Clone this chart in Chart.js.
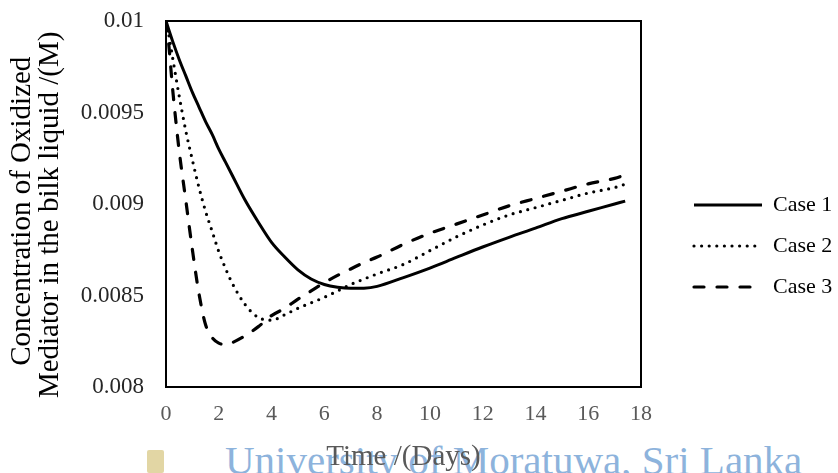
<!DOCTYPE html>
<html>
<head>
<meta charset="utf-8">
<script src="https://cdn.jsdelivr.net/npm/chart.js@4.4.1/dist/chart.umd.min.js"></script>
<style>
  body { margin: 0; background: #fff; }
  #wrap { position: relative; width: 838px; height: 473px; overflow: hidden; }
  #mark { position: absolute; left: 225px; top: 440px; font: 41px/41px "Liberation Serif", serif; color: #8db3dc; white-space: nowrap; }
  #crest { position: absolute; left: 147px; top: 450px; width: 17px; height: 23px; background: #e2d6a4; border-radius: 2px; }
  #box { position: absolute; left: 0; top: 0; width: 838px; height: 473px; }
</style>
</head>
<body>
<div id="wrap">
  <div id="crest"></div>
  <div id="mark">University of Moratuwa, Sri Lanka</div>
  <div id="box"><canvas id="chart-id"></canvas></div>
</div>
<script>
// Chart data //
const xDays = [0, 0.1, 0.25, 0.5, 0.75, 1, 1.25, 1.5, 1.75, 2, 2.25, 2.5, 3, 3.5, 4, 4.5, 5, 5.5, 6, 6.5, 7, 7.5, 8, 9, 10, 11, 12, 13, 14, 15, 16, 17, 17.4];
const case1 = [0.01, 0.009955, 0.00989, 0.00979, 0.0097, 0.00961, 0.00953, 0.00945, 0.00938, 0.0093, 0.00923, 0.00916, 0.00902, 0.0089, 0.00879, 0.00871, 0.00864, 0.00859, 0.00856, 0.008545, 0.008539, 0.00854, 0.00855, 0.008598, 0.00865, 0.008708, 0.008765, 0.008818, 0.008868, 0.00892, 0.00896, 0.009, 0.009016];
const case2 = [0.01, 0.00993, 0.0098, 0.00959, 0.0094, 0.00924, 0.00909, 0.00896, 0.00885, 0.00874, 0.00865, 0.00857, 0.00845, 0.00838, 0.008365, 0.008395, 0.00843, 0.00846, 0.00849, 0.008525, 0.00856, 0.00859, 0.008618, 0.00867, 0.008745, 0.00882, 0.008885, 0.00894, 0.00898, 0.00902, 0.00906, 0.00909, 0.009108];
const case3 = [0.01, 0.00988, 0.00963, 0.00929, 0.00902, 0.00875, 0.00851, 0.00834, 0.00827, 0.00824, 0.008232, 0.008242, 0.00828, 0.00833, 0.00839, 0.00843, 0.00848, 0.008525, 0.00857, 0.00861, 0.008645, 0.00868, 0.00871, 0.00878, 0.00884, 0.00889, 0.00894, 0.00899, 0.00903, 0.00907, 0.00911, 0.00914, 0.009159];
const seriesNames = ["Case 1", "Case 2", "Case 3"];
const xTickLabels = ["0", "2", "4", "6", "8", "10", "12", "14", "16", "18"];
const yTickLabels = ["0.008", "0.0085", "0.009", "0.0095", "0.01"];

// Pair days with values
function toPoints(values) {
    return xDays.map((d, i) => ({ x: d, y: values[i] }));
}

Chart.defaults.font.family = "'Liberation Serif', 'Times New Roman', serif";

const getCanvas = document.getElementById("chart-id");

// Line style for each case
const lineStyles = [
    { borderWidth: 3, borderDash: [], borderCapStyle: "butt" },
    { borderWidth: 3.2, borderDash: [0, 7.6], borderCapStyle: "round" },
    { borderWidth: 3.2, borderDash: [10, 13], borderCapStyle: "round" }
];

const datasets = [case1, case2, case3].map((values, i) => ({
    label: seriesNames[i],
    data: toPoints(values),
    borderColor: "#000",
    backgroundColor: "#000",
    borderWidth: lineStyles[i].borderWidth,
    borderDash: lineStyles[i].borderDash,
    borderCapStyle: lineStyles[i].borderCapStyle,
    pointRadius: 0,
    cubicInterpolationMode: "monotone",
    fill: false
}));

// no extra room for edge tick labels
function noEdgePadding(s) {
    s.paddingTop = 0;
    s.paddingBottom = 0;
    s.paddingLeft = 0;
    s.paddingRight = 0;
}

const myChart = new Chart(getCanvas, {
    type: "line",
    data: { datasets: datasets },
    options: {
        responsive: true,
        maintainAspectRatio: false,
        animation: false,
        layout: { padding: { top: 19, right: 1, bottom: 0, left: 0 } },
        plugins: {
            tooltip: { enabled: false },
            legend: {
                position: "right",
                maxWidth: 162,
                labels: {
                    usePointStyle: true,
                    pointStyleWidth: 68,
                    padding: 19,
                    color: "#000",
                    font: { size: 22 },
                    // Legend lines copy each dataset's dash
                    generateLabels: chart => chart.data.datasets.map((ds, i) => ({
                        text: ds.label,
                        strokeStyle: ds.borderColor,
                        fillStyle: ds.borderColor,
                        lineWidth: ds.borderWidth,
                        lineDash: ds.borderDash,
                        lineCap: ds.borderCapStyle,
                        pointStyle: "line",
                        fontColor: "#000",
                        hidden: false,
                        datasetIndex: i
                    }))
                }
            }
        },
        scales: {
            x: {
                type: "linear",
                position: "bottom",
                min: 0,
                max: 18,
                grid: { display: false, drawTicks: false },
                border: { display: true, color: "#000", width: 2 },
                ticks: {
                    stepSize: 2,
                    padding: 14,
                    color: "#595959",
                    font: { size: 22 },
                    maxRotation: 0,
                    callback: (v, i) => xTickLabels[i]
                },
                title: {
                    display: true,
                    text: "Time /(Days)",
                    color: "#595959",
                    font: { size: 29, lineHeight: 1 },
                    padding: { top: 0, bottom: 1 }
                },
                afterFit: s => { s.height = 86; noEdgePadding(s); }
            },
            x2: {
                type: "linear",
                axis: "x",
                position: "top",
                min: 0,
                max: 18,
                grid: { display: false, drawTicks: false },
                border: { display: true, color: "#000", width: 2 },
                ticks: { display: false },
                afterFit: s => { s.height = 2; noEdgePadding(s); }
            },
            y: {
                type: "linear",
                position: "left",
                min: 0.008,
                max: 0.01,
                grid: { display: false, drawTicks: false },
                border: { display: true, color: "#000", width: 2 },
                ticks: {
                    stepSize: 0.0005,
                    padding: 22,
                    color: "#262626",
                    font: { size: 23 },
                    callback: (v, i) => yTickLabels[i]
                },
                title: {
                    display: true,
                    // trailing spaces nudge the lines down a little, as in the picture
                    text: ["Concentration of Oxidized  ", "Mediator in the bilk liquid /(M)   "],
                    color: "#000",
                    font: { size: 29, lineHeight: 0.97 },
                    padding: { top: 8, bottom: 0 }
                },
                afterFit: s => { s.width = 166; noEdgePadding(s); }
            },
            y2: {
                type: "linear",
                axis: "y",
                position: "right",
                min: 0.008,
                max: 0.01,
                grid: { display: false, drawTicks: false },
                border: { display: true, color: "#000", width: 2 },
                ticks: { display: false },
                afterFit: s => { s.width = 34; noEdgePadding(s); }
            }
        }
    }
});
</script>
</body>
</html>
